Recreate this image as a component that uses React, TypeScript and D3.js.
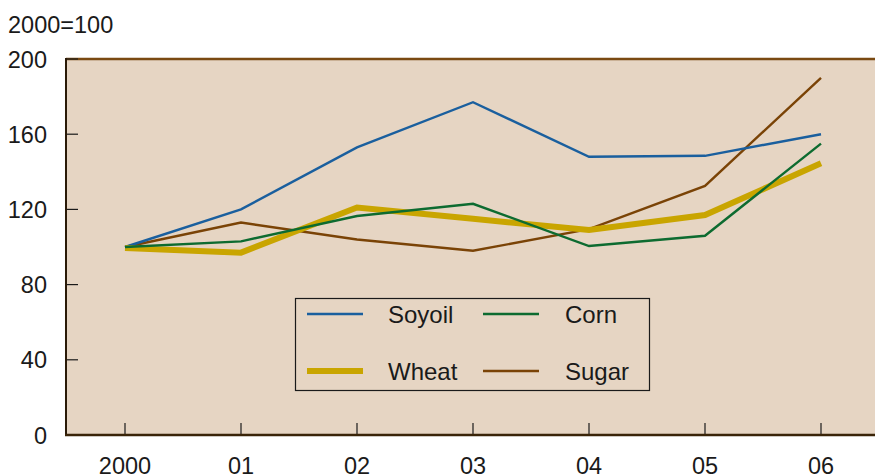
import React from 'react';
import * as d3 from 'd3';

const years = ['2000', '01', '02', '03', '04', '05', '06'];
const soyoil = [100, 120, 153, 177, 148, 148.5, 160];
const corn = [100, 103, 116.5, 123, 100.5, 106, 155];
const wheat = [99.5, 97, 121, 115, 109, 117, 144.5];
const sugar = [100, 113, 104, 98, 109.5, 132.5, 190];
const yTicks = [0, 40, 80, 120, 160, 200];

const series = [
  { name: 'Soyoil', values: soyoil, color: '#1a5f9e', width: 2.4 },
  { name: 'Corn', values: corn, color: '#0d6b30', width: 2.4 },
  { name: 'Wheat', values: wheat, color: '#c9a500', width: 6 },
  { name: 'Sugar', values: sugar, color: '#7a4306', width: 2.4 },
];

export default function App() {
  const W = 875;
  const H = 475;
  const left = 66;
  const top = 59;
  const bottom = 435;

  const x = d3.scalePoint<string>().domain(years).range([125, 821]);
  const y = d3.scaleLinear().domain([0, 200]).range([bottom, top]);

  const line = d3
    .line<number>()
    .x((_, i) => x(years[i])!)
    .y((d) => y(d));

  const font = 'Helvetica, Arial, "Liberation Sans", sans-serif';

  // legend layout
  const legendItems = [
    { s: series[0], lx: 307, tx: 388, ly: 314 },
    { s: series[1], lx: 483, tx: 565, ly: 314 },
    { s: series[2], lx: 307, tx: 388, ly: 371 },
    { s: series[3], lx: 483, tx: 565, ly: 371 },
  ];

  return (
    <svg
      width={W}
      height={H}
      style={{ position: 'absolute', left: 0, top: 0 }}
      fontFamily={font}
    >
      <rect x={0} y={0} width={W} height={H} fill="#ffffff" />
      <text x={8} y={33} fontSize={23.5} fill="#1a1a1a">2000=100</text>

      <rect x={left} y={top} width={W - left} height={bottom - top} fill="#e6d5c3" />
      <line x1={left} x2={W} y1={top} y2={top} stroke="#7a4a12" strokeWidth={2.5} />

      {yTicks.map((t) => (
        <g key={t}>
          <line x1={left} x2={left + 12} y1={y(t)} y2={y(t)} stroke="#1a1a1a" strokeWidth={1.2} />
          <text x={47} y={y(t) + 8.5} fontSize={23.5} textAnchor="end" fill="#1a1a1a">
            {t}
          </text>
        </g>
      ))}

      {years.map((yr) => (
        <g key={yr}>
          <line x1={x(yr)} x2={x(yr)} y1={bottom} y2={bottom - 12} stroke="#1a1a1a" strokeWidth={1.2} />
          <text x={x(yr)} y={474} fontSize={23.5} textAnchor="middle" fill="#1a1a1a">
            {yr}
          </text>
        </g>
      ))}

      <line x1={left} x2={left} y1={top - 1} y2={bottom + 1} stroke="#2a1a08" strokeWidth={2} />
      <line x1={left - 1} x2={W} y1={bottom} y2={bottom} stroke="#3a2408" strokeWidth={2.5} />

      {[series[3], series[0], series[2], series[1]].map((s) => (
        <path
          key={s.name}
          d={line(s.values) || ''}
          fill="none"
          stroke={s.color}
          strokeWidth={s.width}
          strokeLinejoin="miter"
        />
      ))}

      <rect x={295.5} y={298.5} width={354} height={92} fill="none" stroke="#1a1a1a" strokeWidth={1.2} />
      {legendItems.map(({ s, lx, tx, ly }) => (
        <g key={s.name}>
          <line x1={lx} x2={lx + 56} y1={ly} y2={ly} stroke={s.color} strokeWidth={s.width} />
          <text x={tx} y={ly + 9} fontSize={24} fill="#1a1a1a">
            {s.name}
          </text>
        </g>
      ))}
    </svg>
  );
}
